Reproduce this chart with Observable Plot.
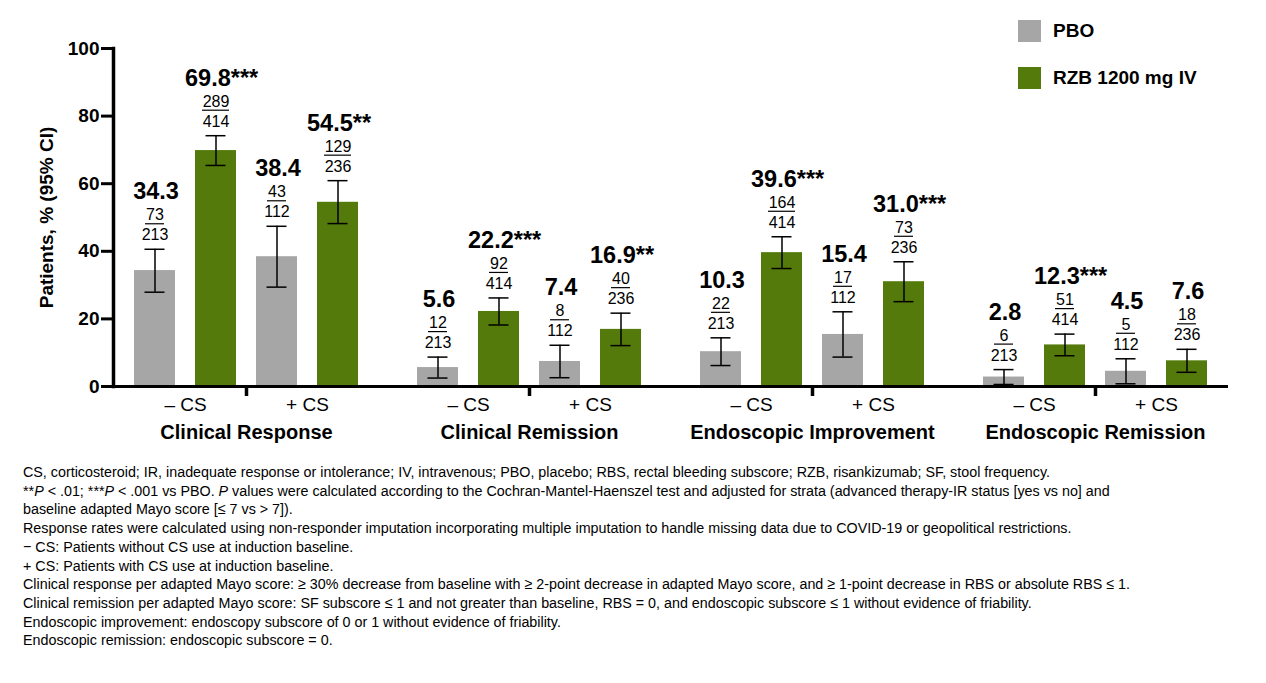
<!DOCTYPE html>
<html>
<head>
<meta charset="utf-8">
<script src="https://cdn.jsdelivr.net/npm/d3@7"></script>
<script src="https://cdn.jsdelivr.net/npm/@observablehq/plot@0.6"></script>
<style>
  html, body { margin: 0; padding: 0; background: #fff; }
  body { width: 1266px; height: 683px; position: relative; overflow: hidden; font-family: "Liberation Sans", Arial, sans-serif; color: #000; }
  #chart { position: absolute; left: 0; top: 0; }
  #legend { position: absolute; left: 1018px; top: 20px; font-weight: bold; font-size: 19px; }
  .lg-row { display: flex; align-items: center; height: 22px; margin-bottom: 25px; }
  .lg-sw { width: 23px; height: 22px; margin-right: 12px; }
  #notes { position: absolute; left: 23px; top: 463px; font-size: 15.5px; line-height: 18.7px; white-space: nowrap; transform-origin: 0 0; }
</style>
</head>
<body>
<div id="chart"></div>
<div id="legend"></div>
<div id="notes"></div>
<script>
// ---- data ----
const groups = ["Clinical Response", "Clinical Remission", "Endoscopic Improvement", "Endoscopic Remission"];
const subgroups = ["– CS", "+ CS"];
const treatments = ["PBO", "RZB 1200 mg IV"];
const colors = ["#a6a6a6", "#537a0b"];
// order per group: PBO –CS, RZB –CS, PBO +CS, RZB +CS
const pct    = [34.3, 69.8, 38.4, 54.5,  5.6, 22.2,  7.4, 16.9, 10.3, 39.6, 15.4, 31.0,  2.8, 12.3, 4.5,  7.6];
const ciLow  = [27.9, 65.4, 29.4, 48.2,  2.5, 18.2,  2.6, 12.1,  6.2, 34.9,  8.7, 25.1,  0.6,  9.1, 0.8,  4.2];
const ciHigh = [40.6, 74.2, 47.4, 60.9,  8.7, 26.2, 12.2, 21.7, 14.4, 44.3, 22.1, 36.9,  5.0, 15.5, 8.2, 11.0];
const nResp  = [73, 289, 43, 129, 12, 92, 8, 40, 22, 164, 17, 73, 6, 51, 5, 18];
const nTotal = [213, 414, 112, 236, 213, 414, 112, 236, 213, 414, 112, 236, 213, 414, 112, 236];
const stars  = ["", "***", "", "**", "", "***", "", "**", "", "***", "", "***", "", "***", "", ""];
const yTicks = [0, 20, 40, 60, 80, 100];
const yLabel = "Patients, % (95% CI)";
const notes = [
  "CS, corticosteroid; IR, inadequate response or intolerance; IV, intravenous; PBO, placebo; RBS, rectal bleeding subscore; RZB, risankizumab; SF, stool frequency.",
  "**<i>P</i> &lt; .01; ***<i>P</i> &lt; .001 vs PBO. <i>P</i> values were calculated according to the Cochran-Mantel-Haenszel test and adjusted for strata (advanced therapy-IR status [yes vs no] and",
  "baseline adapted Mayo score [≤ 7 vs &gt; 7]).",
  "Response rates were calculated using non-responder imputation incorporating multiple imputation to handle missing data due to COVID-19 or geopolitical restrictions.",
  "− CS: Patients without CS use at induction baseline.",
  "+ CS: Patients with CS use at induction baseline.",
  "Clinical response per adapted Mayo score: ≥ 30% decrease from baseline with ≥ 2-point decrease in adapted Mayo score, and ≥ 1-point decrease in RBS or absolute RBS ≤ 1.",
  "Clinical remission per adapted Mayo score: SF subscore ≤ 1 and not greater than baseline, RBS = 0, and endoscopic subscore ≤ 1 without evidence of friability.",
  "Endoscopic improvement: endoscopy subscore of 0 or 1 without evidence of friability.",
  "Endoscopic remission: endoscopic subscore = 0."
];

// ---- tables built from the arrays ----
const keys = [];
subgroups.forEach(s => treatments.forEach(t => keys.push(s + "|" + t)));
const rows = pct.map((v, i) => {
  const s = subgroups[Math.floor(i / 2) % 2], t = treatments[i % 2];
  return {group: groups[Math.floor(i / 4)], sub: s, treatment: t, key: s + "|" + t,
          pct: v, lo: ciLow[i], hi: ciHigh[i], n: nResp[i], N: nTotal[i], sig: stars[i]};
});
const subRows = [];
groups.forEach(g => subgroups.forEach(s => subRows.push({group: g, sub: s, key: s + "|" + treatments[0]})));
const divRows = groups.map(g => ({group: g, key: subgroups[0] + "|" + treatments[1]}));
const axisRows = groups.map(g => ({group: g}));

const plot = Plot.plot({
  width: 1266, height: 455,
  marginTop: 48, marginBottom: 69, marginLeft: 112, marginRight: 37.5,
  style: {fontFamily: "'Liberation Sans', Arial, sans-serif", background: "white", color: "black"},
  fx: {domain: groups, paddingInner: 0.0617, paddingOuter: 0},
  x: {domain: keys, paddingInner: 0.328, paddingOuter: 0.344, axis: null},
  y: {domain: [0, 100]},
  color: {domain: treatments, range: colors},
  marks: [
    Plot.barY(rows, {fx: "group", x: "key", y: "pct", fill: "treatment"}),
    // error bars
    Plot.ruleX(rows, {fx: "group", x: "key", y1: "lo", y2: "hi", strokeWidth: 1.5}),
    Plot.tickY(rows, {fx: "group", x: "key", y: "lo", inset: 10.5, strokeWidth: 1.5}),
    Plot.tickY(rows, {fx: "group", x: "key", y: "hi", inset: 10.5, strokeWidth: 1.5}),
    // labels above bars
    Plot.text(rows.filter(d => !d.sig), {fx: "group", x: "key", y: "hi", text: d => d.pct.toFixed(1),
      lineAnchor: "bottom", dy: -50, dx: 1, fontSize: 23.5, fontWeight: "bold"}),
    Plot.text(rows.filter(d => d.sig), {fx: "group", x: "key", y: "hi", text: d => d.pct.toFixed(1) + d.sig,
      lineAnchor: "bottom", textAnchor: "start", dy: -50, dx: -31, fontSize: 23.5, fontWeight: "bold"}),
    Plot.text(rows, {fx: "group", x: "key", y: "hi", text: d => String(d.n),
      lineAnchor: "bottom", dy: -29, fontSize: 16}),
    Plot.tickY(rows.filter(d => String(d.n).length < 3), {fx: "group", x: "key", y: "hi", dy: -25.5, inset: 11, strokeWidth: 1.2}),
    Plot.tickY(rows.filter(d => String(d.n).length >= 3), {fx: "group", x: "key", y: "hi", dy: -25.5, inset: 7, strokeWidth: 1.2}),
    Plot.text(rows, {fx: "group", x: "key", y: "hi", text: d => String(d.N),
      lineAnchor: "bottom", dy: -9, fontSize: 16}),
    // axes
    Plot.ruleY(axisRows.slice(0, 3), {fx: "group", y: 0, insetRight: -17.5, insetLeft: -2, strokeWidth: 3}),
    Plot.ruleY(axisRows.slice(3), {fx: "group", y: 0, insetLeft: -2, strokeWidth: 3}),
    Plot.ruleX(divRows, {fx: "group", x: "key", y1: 0, y2: 0, dx: 30.5, insetBottom: -10, strokeWidth: 3.5}),
    Plot.text(subRows, {fx: "group", x: "key", y: 0, text: "sub", dx: 30.5, dy: 11, lineAnchor: "top", fontSize: 19}),
    Plot.axisFx({anchor: "bottom", tickSize: 0, tickPadding: 38, fontSize: 20, fontWeight: "bold", label: null}),
    Plot.frame({anchor: "left", facetAnchor: "left", strokeWidth: 3.5}),
    Plot.axisY({ticks: yTicks, tickSize: 12, tickPadding: 2, strokeWidth: 3, fontSize: 19, fontWeight: "bold",
      label: yLabel, labelAnchor: "center", labelOffset: 74, labelArrow: "none"})
  ]
});
document.getElementById("chart").appendChild(plot);

// legend
const legend = document.getElementById("legend");
treatments.forEach((t, i) => {
  const row = document.createElement("div");
  row.className = "lg-row";
  const sw = document.createElement("div");
  sw.className = "lg-sw";
  sw.style.background = colors[i];
  const lab = document.createElement("span");
  lab.textContent = t;
  row.appendChild(sw); row.appendChild(lab);
  legend.appendChild(row);
});

// footnotes
const notesEl = document.getElementById("notes");
const spans = notes.map(n => {
  const d = document.createElement("div");
  const s = document.createElement("span");
  s.innerHTML = n;
  d.appendChild(s);
  notesEl.appendChild(d);
  return s;
});
const w = spans[0].getBoundingClientRect().width;
notesEl.style.transform = "scaleX(" + (1027 / w) + ")";
</script>
</body>
</html>
